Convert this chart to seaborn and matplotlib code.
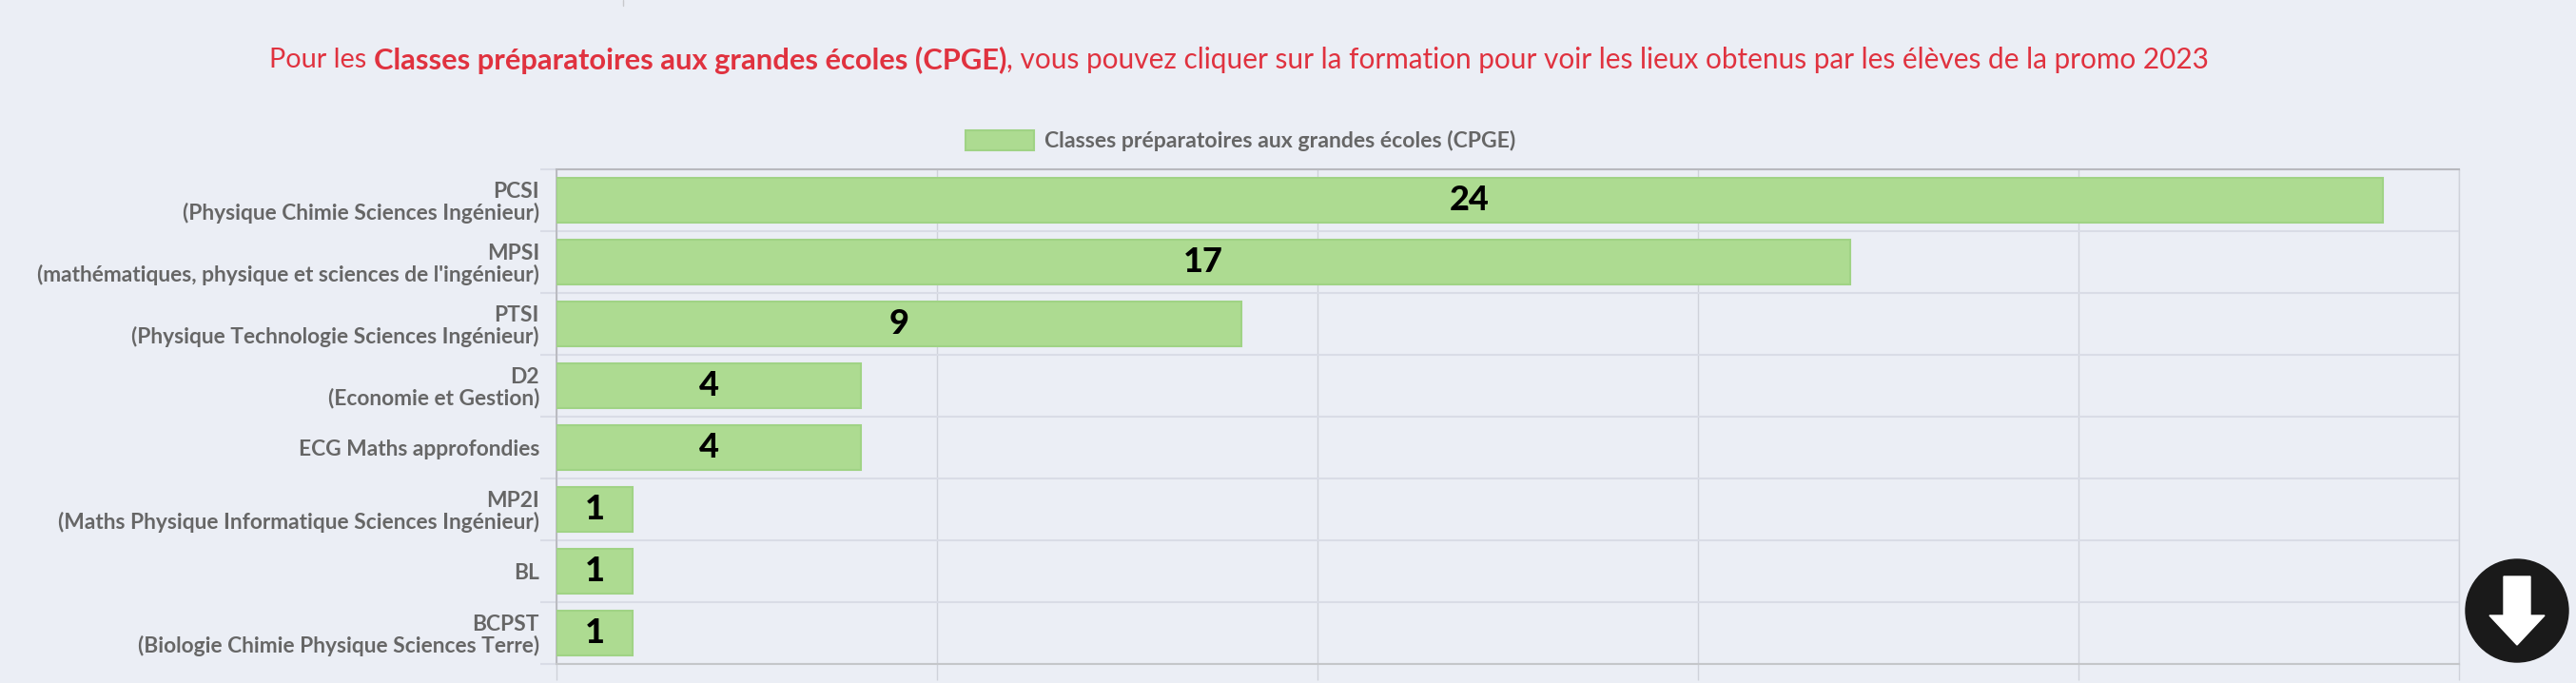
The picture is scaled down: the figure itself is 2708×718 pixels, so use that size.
import matplotlib
matplotlib.use("Agg")
import matplotlib.pyplot as plt
import pandas as pd
import seaborn as sn
from matplotlib.patches import Circle, Polygon

BG = "#ebeef5"
GREEN = "#addb91"
GREEN_EDGE = "#a0d385"
GRID = "#d9dce6"
RED = "#e0323f"

formations = [
    "PCSI\n(Physique Chimie Sciences Ingénieur)",
    "MPSI\n(mathématiques, physique et sciences de l'ingénieur)",
    "PTSI\n(Physique Technologie Sciences Ingénieur)",
    "D2\n(Economie et Gestion)",
    "ECG Maths approfondies",
    "MP2I\n(Maths Physique Informatique Sciences Ingénieur)",
    "BL",
    "BCPST\n(Biologie Chimie Physique Sciences Terre)",
]
eleves = [24, 17, 9, 4, 4, 1, 1, 1]
x_ticks = [0, 5, 10, 15, 20, 25]
serie = "Classes préparatoires aux grandes écoles (CPGE)"
titre = [
    ("Pour les ", "normal", 20.8),
    (serie, "bold", 22.2),
    (", vous pouvez cliquer sur la formation pour voir les lieux obtenus par les élèves de la promo 2023", "normal", 21.45),
]

W, H = 2708, 718
sn.set_theme(style="whitegrid")
plt.rcParams["font.family"] = ["Lato", "DejaVu Sans"]

fig = plt.figure(figsize=(W / 100, H / 100), dpi=100, facecolor=BG)
ax = fig.add_axes([585 / W, 1 - 698 / H, 2000 / W, 520 / H], facecolor=BG)

df = pd.DataFrame({"formation": formations, "eleves": eleves})
sn.barplot(
    df,
    x="eleves",
    y="formation",
    ax=ax,
    color=GREEN,
    saturation=1,
    width=0.72,
    linewidth=1.5,
    edgecolor=GREEN_EDGE,
    label=serie,
    zorder=3,
)
ax.set(xlabel="", ylabel="", xlim=(0, 25), ylim=(7.5, -0.5))
ax.set_xticks(x_ticks)
ax.tick_params(axis="x", bottom=True, length=12, width=1, color="#cfd2da", labelbottom=False)
ax.tick_params(axis="y", length=0, pad=13, labelsize=16.4, labelcolor="#666666")
for lab in ax.get_yticklabels():
    lab.set_fontweight("bold")
    lab.set_linespacing(1.05)
ax.set_yticks([i - 0.5 for i in range(9)], minor=True)
ax.tick_params(axis="y", which="minor", left=True, length=12, width=1.5, color=GRID)
ax.grid(False)
ax.grid(axis="x", color="#cfd2da", linewidth=1, zorder=0)
ax.grid(axis="y", which="minor", color=GRID, linewidth=1.5, zorder=0)

ax.spines["left"].set_color("#b4b5ba")
ax.spines["left"].set_linewidth(1.2)
ax.spines["right"].set_color("#cfd2da")
ax.spines["right"].set_linewidth(1)
ax.spines["top"].set_color("#b8b9be")
ax.spines["top"].set_linewidth(1.5)
ax.spines["bottom"].set_color("#c4c6c9")
ax.spines["bottom"].set_linewidth(1.5)

for bars in ax.containers:
    ax.bar_label(
        bars,
        labels=[str(v) for v in eleves],
        label_type="center",
        fontsize=26,
        fontweight="black",
        color="black",
        zorder=5,
    )

ax.legend(
    loc="center",
    bbox_to_anchor=(1304 / W, 1 - 148 / H),
    bbox_transform=fig.transFigure,
    frameon=False,
    labelcolor="#666666",
    prop={"weight": "bold", "size": 16.6},
    handlelength=3.13,
    handleheight=1.0,
    handletextpad=0.5,
)

# calque en pixels pour le titre et le bouton
over = fig.add_axes([0, 0, 1, 1], facecolor="none", zorder=10)
over.set_xlim(0, W)
over.set_ylim(H, 0)
over.axis("off")

over.plot([655, 655], [0, 6], color="#c8c9cc", linewidth=1)

renderer = fig.canvas.get_renderer()
x = 283
for part, weight, size in titre:
    t = over.text(x, 63, part, color=RED, fontsize=size, fontweight=weight, va="center", ha="left")
    x += t.get_window_extent(renderer).width

over.add_patch(Circle((2646, 642), 54, color="#1a1a1a"))
over.add_patch(
    Polygon(
        [(2632, 606), (2660, 606), (2660, 647), (2675, 647), (2646, 678), (2617, 647), (2632, 647)],
        closed=True,
        color="white",
    )
)

fig.savefig("out.png", dpi=100, facecolor=BG)
